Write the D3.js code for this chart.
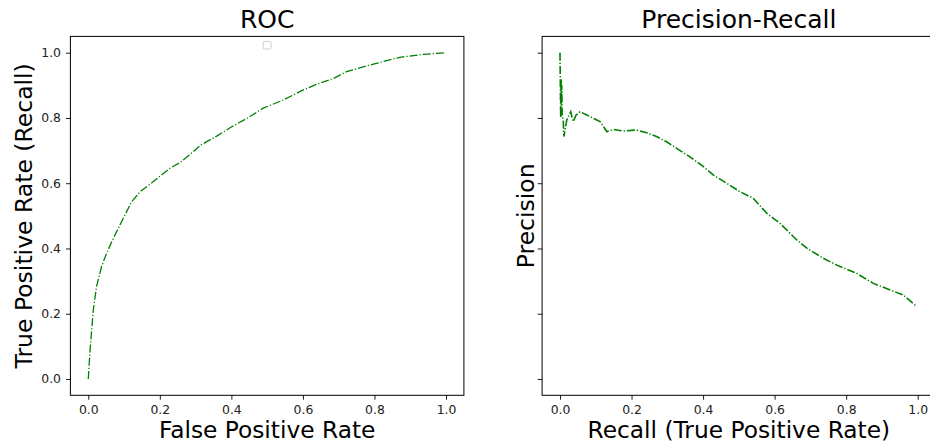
<!DOCTYPE html>
<html>
<head>
<meta charset="utf-8">
<script src="https://cdn.jsdelivr.net/npm/d3@7"></script>
<style>
  html, body { margin: 0; padding: 0; background: #fff; }
  svg { display: block; font-family: "DejaVu Sans", sans-serif; }
</style>
</head>
<body>
<svg id="chart" width="930" height="444"></svg>
<script>
// ---- data ----
const rocFpr = [0, 0.005, 0.014, 0.023, 0.037, 0.051, 0.070, 0.093, 0.121, 0.145, 0.182, 0.228, 0.256, 0.294, 0.314, 0.360, 0.401, 0.445, 0.489, 0.545, 0.601, 0.640, 0.685, 0.722, 0.797, 0.871, 0.937, 1.0];
const rocTpr = [0, 0.089, 0.211, 0.283, 0.344, 0.385, 0.431, 0.482, 0.543, 0.574, 0.605, 0.646, 0.663, 0.697, 0.717, 0.745, 0.773, 0.800, 0.830, 0.855, 0.886, 0.904, 0.921, 0.942, 0.965, 0.986, 0.995, 1.0];

const prRecall = [0, 0.002, 0.003, 0.004, 0.005, 0.006, 0.009, 0.011, 0.019, 0.030, 0.037, 0.045, 0.056, 0.075, 0.093, 0.112, 0.131, 0.149, 0.177, 0.214, 0.242, 0.270, 0.298, 0.326, 0.363, 0.401, 0.429, 0.466, 0.503, 0.540, 0.578, 0.615, 0.662, 0.690, 0.736, 0.774, 0.829, 0.876, 0.923, 0.960, 0.997];
const prPrecision = [1.0, 0.80, 0.92, 0.84, 0.90, 0.81, 0.794, 0.743, 0.794, 0.819, 0.789, 0.809, 0.819, 0.809, 0.799, 0.789, 0.758, 0.765, 0.760, 0.763, 0.755, 0.743, 0.727, 0.707, 0.681, 0.651, 0.625, 0.600, 0.574, 0.554, 0.508, 0.477, 0.426, 0.401, 0.370, 0.349, 0.324, 0.293, 0.273, 0.257, 0.222];

const tickValues = [0, 0.2, 0.4, 0.6, 0.8, 1.0];
const titles = ["ROC", "Precision-Recall"];
const xLabels = ["False Positive Rate", "Recall (True Positive Rate)"];
const yLabels = ["True Positive Rate (Recall)", "Precision"];

// ---- layout ----
const svg = d3.select("#chart");
const panels = [
  { left: 70.4, right: 463.9, xs: rocFpr, ys: rocTpr, showYLabels: true, yLabelX: 31.5, legend: true, lw: 1.3 },
  { left: 542.1, right: 935.6, xs: prRecall, ys: prPrecision, showYLabels: false, yLabelX: 534, legend: false, lw: 1.6 }
];
const plotTop = 36.4, plotBottom = 395.3;

panels.forEach((p, i) => {
  const x = d3.scaleLinear().domain([-0.05, 1.05]).range([p.left, p.right]);
  const y = d3.scaleLinear().domain([-0.05, 1.05]).range([plotBottom, plotTop]);
  const g = svg.append("g");

  // line
  const line = d3.line().x(d => x(d[0])).y(d => y(d[1]));
  g.append("path")
    .datum(p.xs.map((v, k) => [v, p.ys[k]]))
    .attr("d", line)
    .attr("fill", "none")
    .attr("stroke", "#008000")
    .attr("stroke-width", p.lw)
    .attr("stroke-dasharray", "8,2,1.25,2");

  // x axis
  const xa = g.append("g").attr("transform", `translate(0,${plotBottom})`)
    .call(d3.axisBottom(x).tickValues(tickValues).tickFormat(d3.format(".1f")).tickSize(4.4).tickPadding(5));
  // y axis
  const ya = g.append("g").attr("transform", `translate(${p.left},0)`)
    .call(d3.axisLeft(y).tickValues(tickValues).tickFormat(p.showYLabels ? d3.format(".1f") : () => "").tickSize(4.4).tickPadding(5));
  [xa, ya].forEach(a => {
    a.select(".domain").remove();
    a.selectAll("text").attr("font-size", 12.4).attr("fill", "#222").attr("font-family", "DejaVu Sans");
    a.selectAll("line").attr("stroke", "#000").attr("stroke-width", 0.9);
  });

  // spines
  g.append("rect")
    .attr("x", p.left).attr("y", plotTop)
    .attr("width", p.right - p.left).attr("height", plotBottom - plotTop)
    .attr("fill", "none").attr("stroke", "#000").attr("stroke-width", 1);

  const cx = (p.left + p.right) / 2;
  // title
  g.append("text").attr("x", cx).attr("y", 27.7)
    .attr("text-anchor", "middle").attr("font-size", 25).attr("fill", "#000")
    .text(titles[i]);
  // x label
  g.append("text").attr("x", cx).attr("y", 438.2)
    .attr("text-anchor", "middle").attr("font-size", 23.3).attr("fill", "#000")
    .text(xLabels[i]);
  // y label
  const cy = (plotTop + plotBottom) / 2;
  g.append("text")
    .attr("transform", `translate(${p.yLabelX},${cy}) rotate(-90)`)
    .attr("text-anchor", "middle").attr("font-size", 23.5).attr("fill", "#000")
    .text(yLabels[i]);

  // empty legend box
  if (p.legend) {
    g.append("rect")
      .attr("x", cx - 4).attr("y", 41.5)
      .attr("width", 8).attr("height", 7.5)
      .attr("rx", 1.5).attr("ry", 1.5)
      .attr("fill", "#fff").attr("stroke", "#ccc").attr("stroke-width", 1);
  }
});
</script>
</body>
</html>
